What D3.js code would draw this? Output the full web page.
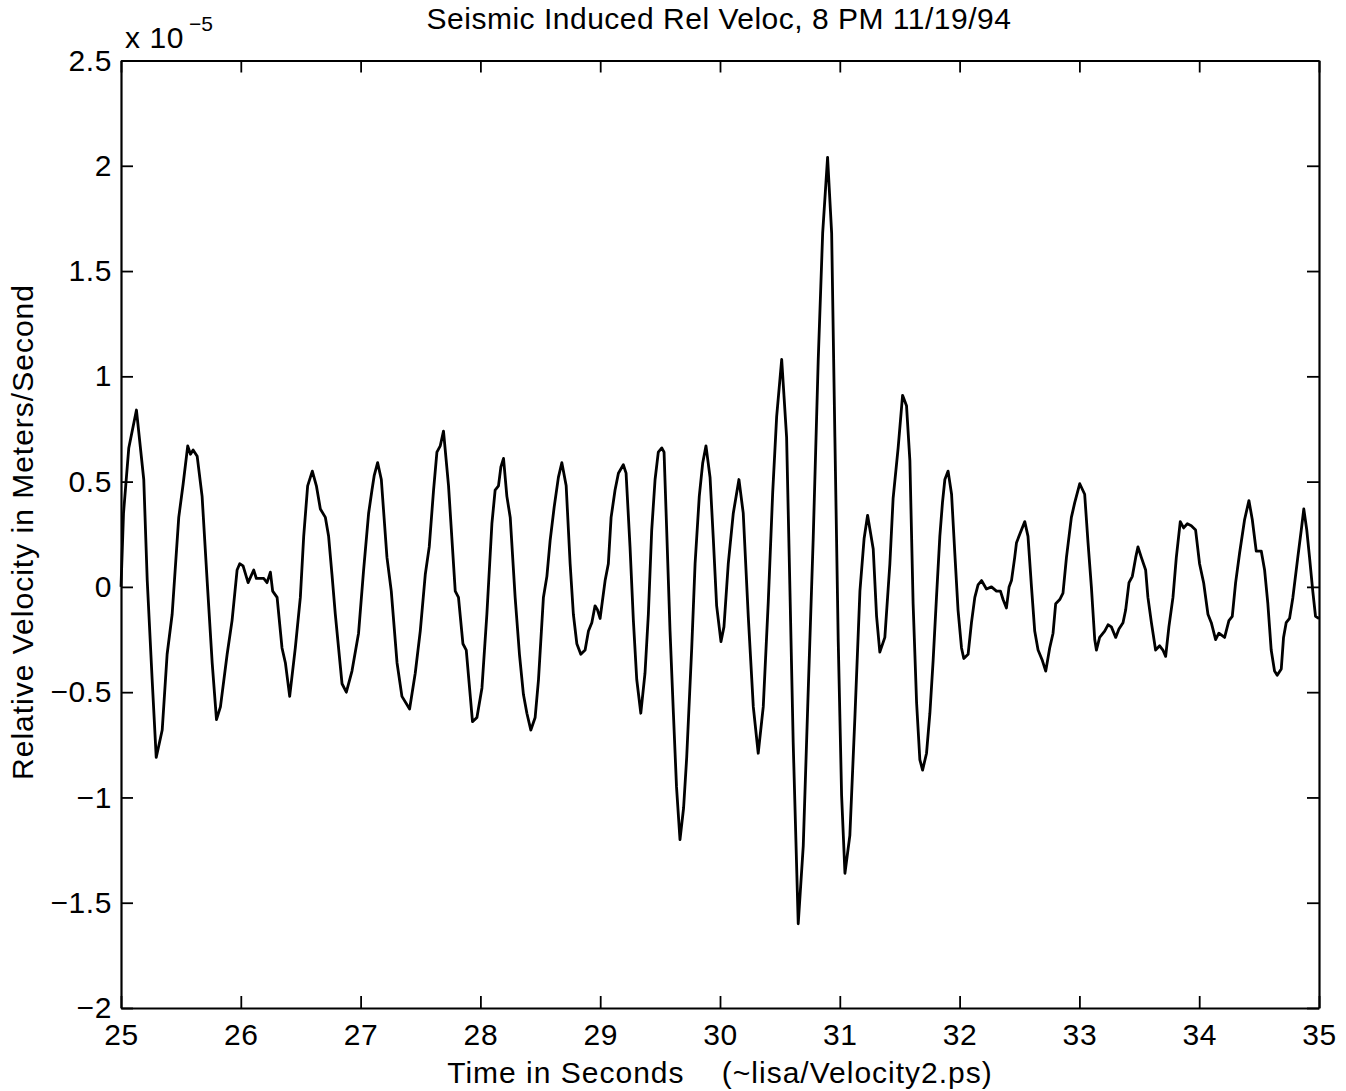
<!DOCTYPE html>
<html>
<head>
<meta charset="utf-8">
<script src="https://cdn.jsdelivr.net/npm/d3@7/dist/d3.min.js"></script>
<style>
  html, body { margin: 0; padding: 0; background: #fff; }
  svg { display: block; }
  text { font-family: "Liberation Sans", Arial, Helvetica, sans-serif; fill: #000; }
</style>
</head>
<body>
<svg id="chart" width="1346" height="1091"></svg>
<script>
// ---- data (velocity in units of 1e-5 m/s) ----
const timeSec = [
25.000,25.021,25.065,25.129,25.190,25.219,25.260,25.294,25.344,25.385,
25.427,25.482,25.519,25.557,25.580,25.602,25.636,25.677,25.719,25.761,
25.797,25.830,25.886,25.927,25.969,25.991,26.019,26.061,26.108,26.130,
26.191,26.219,26.247,26.266,26.303,26.344,26.372,26.408,26.455,26.497,
26.525,26.558,26.597,26.631,26.664,26.706,26.733,26.761,26.789,26.845,
26.881,26.928,26.983,27.025,27.067,27.095,27.114,27.142,27.173,27.220,
27.256,27.304,27.345,27.409,27.456,27.498,27.540,27.573,27.609,27.637,
27.665,27.692,27.734,27.790,27.817,27.854,27.882,27.934,27.971,28.013,
28.054,28.096,28.123,28.151,28.171,28.193,28.221,28.249,28.290,28.326,
28.359,28.388,28.421,28.457,28.485,28.526,28.555,28.582,28.616,28.651,
28.680,28.716,28.749,28.776,28.805,28.838,28.874,28.902,28.930,28.957,
28.978,28.999,29.041,29.068,29.091,29.124,29.152,29.193,29.216,29.249,
29.277,29.305,29.339,29.374,29.402,29.430,29.458,29.485,29.514,29.533,
29.555,29.583,29.611,29.637,29.666,29.696,29.722,29.764,29.792,29.827,
29.856,29.883,29.917,29.944,29.972,30.008,30.033,30.069,30.111,30.158,
30.194,30.236,30.278,30.319,30.361,30.403,30.440,30.473,30.515,30.556,
30.584,30.611,30.653,30.695,30.736,30.778,30.820,30.857,30.898,30.932,
30.959,30.987,31.015,31.043,31.084,31.126,31.168,31.203,31.232,31.279,
31.307,31.334,31.376,31.418,31.445,31.487,31.524,31.557,31.585,31.612,
31.641,31.668,31.691,31.724,31.752,31.779,31.807,31.835,31.857,31.877,
31.904,31.933,31.960,31.987,32.016,32.035,32.071,32.099,32.127,32.154,
32.183,32.224,32.266,32.308,32.341,32.363,32.391,32.413,32.433,32.460,
32.475,32.502,32.544,32.571,32.600,32.627,32.655,32.691,32.719,32.752,
32.780,32.802,32.836,32.863,32.892,32.933,32.961,33.003,33.044,33.072,
33.100,33.128,33.142,33.169,33.211,33.239,33.267,33.303,33.330,33.364,
33.386,33.414,33.442,33.470,33.489,33.517,33.553,33.572,33.601,33.636,
33.670,33.697,33.720,33.747,33.781,33.809,33.842,33.870,33.901,33.934,
33.970,34.003,34.037,34.073,34.101,34.137,34.164,34.212,34.248,34.276,
34.304,34.337,34.379,34.415,34.443,34.476,34.518,34.546,34.573,34.601,
34.629,34.651,34.685,34.704,34.726,34.754,34.782,34.823,34.852,34.873,
34.898,34.921,34.948,34.971,35.000
];
const velocity = [
0.00,0.35,0.66,0.84,0.51,0.03,-0.44,-0.81,-0.68,-0.32,
-0.13,0.33,0.49,0.67,0.63,0.65,0.62,0.43,0.03,-0.36,
-0.63,-0.57,-0.32,-0.16,0.08,0.11,0.10,0.02,0.08,0.04,
0.04,0.02,0.07,-0.02,-0.05,-0.29,-0.36,-0.52,-0.29,-0.05,
0.24,0.48,0.55,0.48,0.37,0.33,0.24,0.06,-0.13,-0.46,
-0.50,-0.40,-0.22,0.08,0.35,0.46,0.53,0.59,0.51,0.14,
-0.02,-0.36,-0.52,-0.58,-0.41,-0.21,0.06,0.19,0.46,0.64,
0.67,0.74,0.48,-0.02,-0.05,-0.27,-0.30,-0.64,-0.62,-0.48,
-0.13,0.30,0.46,0.48,0.57,0.61,0.43,0.33,-0.05,-0.32,
-0.51,-0.60,-0.68,-0.62,-0.44,-0.05,0.05,0.22,0.38,0.52,
0.59,0.48,0.11,-0.13,-0.27,-0.32,-0.30,-0.21,-0.17,-0.09,
-0.11,-0.15,0.03,0.11,0.33,0.46,0.54,0.58,0.54,0.19,
-0.16,-0.44,-0.60,-0.41,-0.13,0.27,0.51,0.64,0.66,0.64,
0.27,-0.21,-0.60,-0.95,-1.20,-1.05,-0.81,-0.29,0.11,0.43,
0.59,0.67,0.52,0.23,-0.09,-0.26,-0.19,0.11,0.35,0.51,
0.35,-0.14,-0.57,-0.79,-0.57,-0.07,0.45,0.81,1.08,0.71,
-0.02,-0.74,-1.60,-1.23,-0.50,0.23,1.08,1.68,2.04,1.68,
0.71,-0.26,-0.99,-1.36,-1.18,-0.62,-0.02,0.23,0.34,0.18,
-0.14,-0.31,-0.24,0.11,0.42,0.66,0.91,0.86,0.60,-0.08,
-0.55,-0.82,-0.87,-0.79,-0.60,-0.35,-0.05,0.24,0.40,0.51,
0.55,0.44,0.16,-0.11,-0.29,-0.34,-0.32,-0.17,-0.05,0.01,
0.03,-0.01,0.00,-0.02,-0.02,-0.06,-0.10,0.00,0.03,0.14,
0.21,0.25,0.31,0.24,0.00,-0.21,-0.30,-0.35,-0.40,-0.29,
-0.22,-0.08,-0.06,-0.03,0.14,0.33,0.40,0.49,0.44,0.21,
0.00,-0.25,-0.30,-0.24,-0.21,-0.18,-0.19,-0.24,-0.20,-0.17,
-0.11,0.02,0.05,0.14,0.19,0.14,0.08,-0.05,-0.17,-0.30,
-0.28,-0.30,-0.33,-0.19,-0.05,0.14,0.31,0.28,0.30,0.29,
0.27,0.11,0.02,-0.13,-0.17,-0.25,-0.22,-0.24,-0.16,-0.14,
0.02,0.16,0.32,0.41,0.32,0.17,0.17,0.08,-0.08,-0.30,
-0.40,-0.42,-0.39,-0.24,-0.17,-0.15,-0.05,0.14,0.27,0.37,
0.27,0.14,-0.02,-0.14,-0.15
];
const xTicks = [25, 26, 27, 28, 29, 30, 31, 32, 33, 34, 35];
const yTicks = [-2, -1.5, -1, -0.5, 0, 0.5, 1, 1.5, 2, 2.5];
const titleText = "Seismic Induced Rel Veloc, 8 PM 11/19/94";
const xLabelText = "Time in Seconds    (~lisa/Velocity2.ps)";
const yLabelText = "Relative Velocity in Meters/Second";

// ---- layout ----
const L = 121, R = 1319, T = 60.5, B = 1008;
const FS = 30;
const svg = d3.select("#chart");

const x = d3.scaleLinear().domain([25, 35]).range([L, R]);
const y = d3.scaleLinear().domain([-2, 2.5]).range([B, T]);

const fmtY = d => (d < 0 ? "\u2212" : "") + String(Math.abs(d));

const gB = svg.append("g").attr("transform", `translate(0,${B})`)
  .call(d3.axisBottom(x).tickValues(xTicks).tickSizeInner(-12).tickSizeOuter(0).tickPadding(15).tickFormat(d => String(d)));
const gT = svg.append("g").attr("transform", `translate(0,${T})`)
  .call(d3.axisTop(x).tickValues(xTicks).tickSizeInner(-12).tickSizeOuter(0).tickFormat(""));
const gL = svg.append("g").attr("transform", `translate(${L},0)`)
  .call(d3.axisLeft(y).tickValues(yTicks).tickSizeInner(-12).tickSizeOuter(0).tickPadding(9).tickFormat(fmtY));
const gR = svg.append("g").attr("transform", `translate(${R},0)`)
  .call(d3.axisRight(y).tickValues(yTicks).tickSizeInner(-12).tickSizeOuter(0).tickFormat(""));

[gB, gT, gL, gR].forEach(g => {
  g.select(".domain").attr("stroke", "#000").attr("stroke-width", 2.2);
  g.selectAll(".tick line").attr("stroke", "#000").attr("stroke-width", 1.8);
  g.selectAll(".tick text").style("font-size", FS + "px").style("letter-spacing", "0.6px")
    .style("font-family", '"Liberation Sans", Arial, Helvetica, sans-serif').attr("fill", "#000");
});
gB.selectAll(".tick text").attr("dy", "0.72em");

// curve
const line = d3.line().x((d, i) => x(timeSec[i])).y(d => y(d)).curve(d3.curveLinear);
svg.append("path")
  .datum(velocity)
  .attr("d", line)
  .attr("fill", "none")
  .attr("stroke", "#000")
  .attr("stroke-width", 2.8)
  .attr("stroke-linejoin", "round");

// exponent label
svg.append("text").attr("x", 125).attr("y", 48).style("font-size", FS + "px").style("letter-spacing", "0.6px").text("x 10");
svg.append("text").attr("x", 189).attr("y", 31).style("font-size", "21px").text("\u22125");

// title
svg.append("text").attr("x", 719).attr("y", 29).attr("text-anchor", "middle")
  .style("font-size", FS + "px").style("letter-spacing", "0.5px").text(titleText);

// x label
svg.append("text").attr("x", 720).attr("y", 1083).attr("text-anchor", "middle")
  .style("font-size", FS + "px").style("letter-spacing", "1px").style("white-space", "pre")
  .attr("xml:space", "preserve").text(xLabelText);

// y label
svg.append("text").attr("transform", "translate(33,532) rotate(-90)").attr("text-anchor", "middle")
  .style("font-size", FS + "px").style("letter-spacing", "1px").text(yLabelText);
</script>
</body>
</html>
